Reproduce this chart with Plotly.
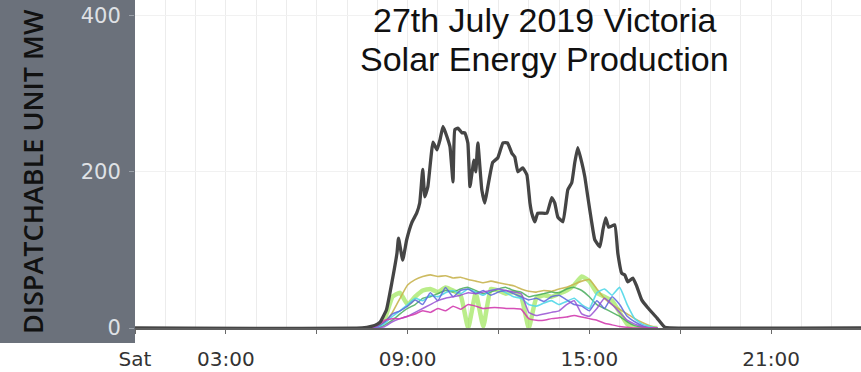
import plotly.graph_objects as go

# ---- data (hours of day, MW) ----
total_hours = [0, 7.5, 7.8, 8.0, 8.1, 8.3, 8.48, 8.65, 8.7, 8.84, 8.97, 9.14, 9.3, 9.4, 9.5, 9.57, 9.67,
               9.84, 9.97, 10.07, 10.17, 10.3, 10.4, 10.5, 10.56, 10.66, 10.79, 10.89, 10.99, 11.06, 11.19,
               11.25, 11.32, 11.45, 11.55, 11.65, 11.81, 11.98, 12.15, 12.3, 12.44, 12.54, 12.64, 12.8,
               12.94, 13.04, 13.1, 13.2, 13.3, 13.6, 13.76, 13.86, 13.96, 14.13, 14.29, 14.42, 14.52,
               14.62, 14.75, 14.85, 14.95, 15.08, 15.18, 15.35, 15.45, 15.54, 15.64, 15.84, 15.94, 16.07,
               16.17, 16.27, 16.44, 16.57, 16.73, 16.93, 17.23, 17.49, 17.66, 24]
total_mw = [0, 0, 2, 5, 8, 23, 58, 96, 115, 87, 113, 135, 147, 160, 203, 168, 181, 238, 228, 241, 258,
            245, 232, 187, 254, 256, 250, 250, 237, 181, 215, 200, 237, 177, 160, 181, 212, 218, 237,
            237, 224, 219, 200, 205, 196, 160, 147, 136, 147, 147, 167, 160, 142, 136, 177, 186, 212,
            231, 212, 194, 168, 135, 113, 104, 126, 141, 129, 132, 96, 70, 68, 59, 64, 53, 36, 26, 13,
            1, 0, 0]

unit_hours = [7.75, 8.0, 8.25, 8.5, 8.75, 9.0, 9.25, 9.5, 9.75, 10.0, 10.25, 10.5, 10.75, 11.0, 11.25,
              11.5, 11.75, 12.0, 12.25, 12.5, 12.75, 13.0, 13.25, 13.5, 13.75, 14.0, 14.25, 14.5,
              14.75, 15.0, 15.25, 15.5, 15.75, 16.0, 16.25, 16.5, 16.75, 17.0, 17.25]
olive_mw = [0, 2, 8, 20, 38, 55, 62, 66, 68, 66, 67, 64, 65, 62, 60, 58, 60, 58, 56, 54, 50, 47, 46, 48,
            47, 50, 52, 56, 60, 62, 50, 38, 30, 24, 18, 12, 7, 3, 0]
lime_mw = [0, 2, 12, 40, 45, 30, 40, 48, 50, 46, 52, 48, 42, 0, 45, 2, 50, 48, 44, 46, 40, 0, 38, 42,
           40, 44, 48, 55, 66, 60, 45, 40, 35, 20, 5, 0, 0, 0, 0]
green_mw = [0, 0, 4, 10, 18, 25, 30, 38, 40, 44, 48, 46, 50, 52, 48, 44, 46, 50, 52, 48, 46, 40, 42, 44,
            46, 45, 50, 52, 48, 40, 30, 25, 20, 15, 8, 3, 1, 0, 0]
blue_mw = [0, 2, 8, 18, 22, 28, 36, 30, 45, 35, 52, 40, 48, 50, 44, 48, 42, 46, 48, 44, 40, 36, 38, 34,
           40, 42, 36, 30, 28, 22, 35, 25, 40, 30, 15, 8, 3, 0, 0]
cyan_mw = [0, 1, 6, 15, 22, 30, 38, 35, 42, 40, 45, 48, 44, 50, 46, 42, 48, 50, 45, 40, 38, 30, 28, 32,
           35, 30, 34, 38, 30, 25, 45, 50, 42, 52, 30, 12, 5, 2, 0]
purple_mw = [0, 0, 2, 8, 12, 15, 20, 25, 30, 35, 38, 40, 42, 45, 44, 46, 48, 50, 48, 46, 44, 20, 16, 18,
             20, 22, 30, 35, 18, 15, 25, 38, 30, 20, 10, 5, 2, 0, 0]
magenta_mw = [0, 3, 10, 12, 12, 15, 18, 22, 20, 25, 22, 28, 24, 30, 28, 25, 26, 26, 25, 25, 24, 12, 10,
              10, 12, 13, 14, 16, 14, 12, 10, 6, 4, 2, 1, 0, 0, 0, 0]

tick_hours = [0, 3, 6, 9, 12, 15, 18, 21, 24]
tick_text = ["Sat", "03:00", "", "09:00", "", "15:00", "", "21:00", ""]
y_ticks = [0, 200, 400]

title_line1 = "27th July 2019 Victoria"
title_line2 = "Solar Energy Production"
y_title = "DISPATCHABLE UNIT MW"

# ---- figure ----
fig = go.Figure()

units = [
    (lime_mw, "rgba(140,225,60,0.6)", 4.5),
    (olive_mw, "rgba(200,180,80,0.9)", 1.6),
    (green_mw, "rgba(70,170,90,0.85)", 1.5),
    (cyan_mw, "rgba(80,215,232,0.9)", 1.6),
    (blue_mw, "rgba(90,100,220,0.85)", 1.5),
    (purple_mw, "rgba(150,80,210,0.85)", 1.5),
    (magenta_mw, "rgba(210,60,175,0.9)", 1.5),
]
for vals, col, w in units:
    fig.add_trace(go.Scatter(x=unit_hours, y=vals, mode="lines",
                             line=dict(color=col, width=w, shape="spline", smoothing=0.4),
                             hoverinfo="skip", showlegend=False))

fig.add_trace(go.Scatter(x=total_hours, y=total_mw, mode="lines",
                         line=dict(color="#454545", width=3.3, shape="spline", smoothing=0.35),
                         showlegend=False))

W, H = 861, 372
L, R, T, B = 135, 0, 0, 44
pw, ph = W - L - R, H - T - B

fig.update_layout(
    width=W, height=H,
    margin=dict(l=L, r=R, t=T, b=B),
    paper_bgcolor="white", plot_bgcolor="white",
    showlegend=False,
    xaxis=dict(range=[0, 23.97], tickvals=tick_hours, ticktext=tick_text,
               showgrid=False, zeroline=False, showline=True, linecolor="#5e5e5e", linewidth=2,
               ticks="outside", ticklen=4, tickcolor="#6a6a6a",
               tickfont=dict(family="DejaVu Sans", size=20, color="#333333"),
               ticklabelstandoff=8,
               minor=dict(dtick=1, tick0=0, showgrid=True, gridcolor="#ececec", gridwidth=1)),
    yaxis=dict(range=[0, 420], tickvals=y_ticks, showgrid=True, gridcolor="#f1f1f1",
               zeroline=False, showline=False,
               ticks="outside", ticklen=5, tickcolor="#9aa0a8",
               tickfont=dict(family="DejaVu Sans", size=21, color="#dfe1e5"),
               ticklabelstandoff=4),
    shapes=[dict(type="rect", xref="paper", yref="paper", x0=-L / pw, x1=0,
                 y0=-15 / ph, y1=1, fillcolor="#6b717b", line=dict(width=0), layer="below")],
    annotations=[
        dict(text=title_line1, xref="paper", yref="paper", x=(544 - L) / pw, y=1,
             xanchor="center", yanchor="top", showarrow=False, borderpad=0,
             font=dict(family="Liberation Sans, Arial", size=34, color="#111111")),
        dict(text=title_line2, xref="paper", yref="paper", x=(544 - L) / pw, y=(ph - 39) / ph,
             xanchor="center", yanchor="top", showarrow=False, borderpad=0,
             font=dict(family="Liberation Sans, Arial", size=34, color="#111111")),
        dict(text=y_title, xref="paper", yref="paper", x=(32 - L) / pw, y=(ph - 172) / ph,
             xanchor="center", yanchor="middle", showarrow=False, textangle=-90,
             font=dict(family="Open Sans", size=27, color="#111111", weight=600)),
    ],
)

fig.write_html("out.html", config={"displayModeBar": False},
               post_script="document.body.style.margin='0';document.body.style.overflow='hidden';")
